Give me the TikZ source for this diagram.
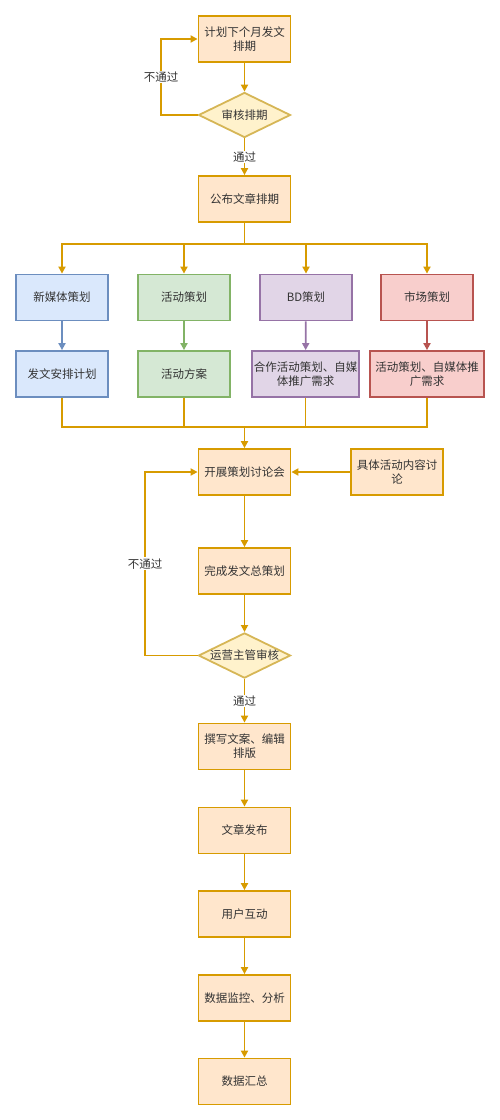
\documentclass[tikz,border=0pt]{standalone}
\usepackage{fontspec}
\setmainfont{Noto Sans CJK SC}
\usetikzlibrary{shapes.geometric,arrows.meta}
\definecolor{ofill}{HTML}{FFE6CC}\definecolor{oline}{HTML}{D79B00}
\definecolor{bfill}{HTML}{DAE8FC}\definecolor{bline}{HTML}{6C8EBF}
\definecolor{gfill}{HTML}{D5E8D4}\definecolor{gline}{HTML}{82B366}
\definecolor{pfill}{HTML}{E1D5E7}\definecolor{pline}{HTML}{9673A6}
\definecolor{rfill}{HTML}{F8CECC}\definecolor{rline}{HTML}{B85450}
\definecolor{yfill}{HTML}{FFF2CC}\definecolor{yline}{HTML}{D6B656}
\definecolor{txt}{HTML}{333333}
\tikzset{
  box/.style={draw=oline,fill=ofill,line width=1.8pt,minimum width=92pt,minimum height=46pt,align=center,inner sep=1pt,font=\fontsize{11.5}{14}\selectfont,text=txt},
  dec/.style={diamond,aspect=2,draw=yline,fill=yfill,line width=1.8pt,minimum width=92pt,minimum height=45pt,inner sep=0pt,font=\fontsize{11.5}{14}\selectfont,text=txt},
  conn/.style={draw=oline,line width=1.8pt,-{Triangle[length=7pt,width=7pt]}},
  plain/.style={draw=oline,line width=1.8pt},
  sub/.style={line width=1.8pt,-{Triangle[length=7pt,width=7pt]}},
  lbl/.style={fill=white,inner sep=1pt,font=\fontsize{11.5}{14}\selectfont,text=txt},
}
\begin{document}
\begin{tikzpicture}[x=1pt,y=-1pt]
\useasboundingbox (0,0) rectangle (500,1120);
\node[box] (a) at (244.5,39) {计划下个月发文\\排期};
\node[dec] (b) at (244.5,115) {审核排期};
\node[box] (c) at (244.5,199) {公布文章排期};
\node[box,draw=bline,fill=bfill] (r1) at (62,297.5) {新媒体策划};
\node[box,draw=gline,fill=gfill] (r2) at (184,297.5) {活动策划};
\node[box,draw=pline,fill=pfill] (r3) at (306,297.5) {BD策划};
\node[box,draw=rline,fill=rfill] (r4) at (427,297.5) {市场策划};
\node[box,draw=bline,fill=bfill] (s1) at (62,374) {发文安排计划};
\node[box,draw=gline,fill=gfill] (s2) at (184,374) {活动方案};
\node[box,draw=pline,fill=pfill,minimum width=107pt] (s3) at (305.5,374) {合作活动策划、自媒\\体推广需求};
\node[box,draw=rline,fill=rfill,minimum width=114pt] (s4) at (427,374) {活动策划、自媒体推\\广需求};
\node[box] (d) at (244.5,472) {开展策划讨论会};
\node[box] (e) at (397,472) {具体活动内容讨\\论};
\node[box] (f) at (244.5,571) {完成发文总策划};
\node[dec] (g) at (244.5,655.5) {运营主管审核};
\node[box] (h) at (244.5,746.5) {撰写文案、编辑\\排版};
\node[box] (i) at (244.5,830.5) {文章发布};
\node[box] (j) at (244.5,914) {用户互动};
\node[box] (k) at (244.5,998) {数据监控、分析};
\node[box] (l) at (244.5,1081.5) {数据汇总};
\coordinate (top) at (244.5,244);
\coordinate (bot) at (244.5,427);
\draw[conn] (a) -- (b);
\draw[conn] (b.west) -| (161,115) |- (a.west) node[lbl,pos=0.25] {不通过};
\draw[conn] (b) -- (c) node[lbl,midway] {通过};
\draw[plain] (c.south) -- (top);
\draw[conn] (top) -| (r1.north);
\draw[conn] (top) -| (r2.north);
\draw[conn] (top) -| (r3.north);
\draw[conn] (top) -| (r4.north);
\draw[sub,draw=bline] (r1) -- (s1);
\draw[sub,draw=gline] (r2) -- (s2);
\draw[sub,draw=pline] (r3) -- (s3);
\draw[sub,draw=rline] (r4) -- (s4);
\draw[plain] (s1.south) |- (bot);
\draw[plain] (s2.south) |- (bot);
\draw[plain] (s3.south) |- (bot);
\draw[plain] (s4.south) |- (bot);
\draw[conn] (bot) -- (d);
\draw[conn] (e) -- (d);
\draw[conn] (d) -- (f);
\draw[conn] (f) -- (g);
\draw[conn] (g.west) -| (145,655.5) |- (d.west) node[lbl,pos=0.25] {不通过};
\draw[conn] (g) -- (h) node[lbl,midway] {通过};
\draw[conn] (h) -- (i);
\draw[conn] (i) -- (j);
\draw[conn] (j) -- (k);
\draw[conn] (k) -- (l);
\end{tikzpicture}
\end{document}
